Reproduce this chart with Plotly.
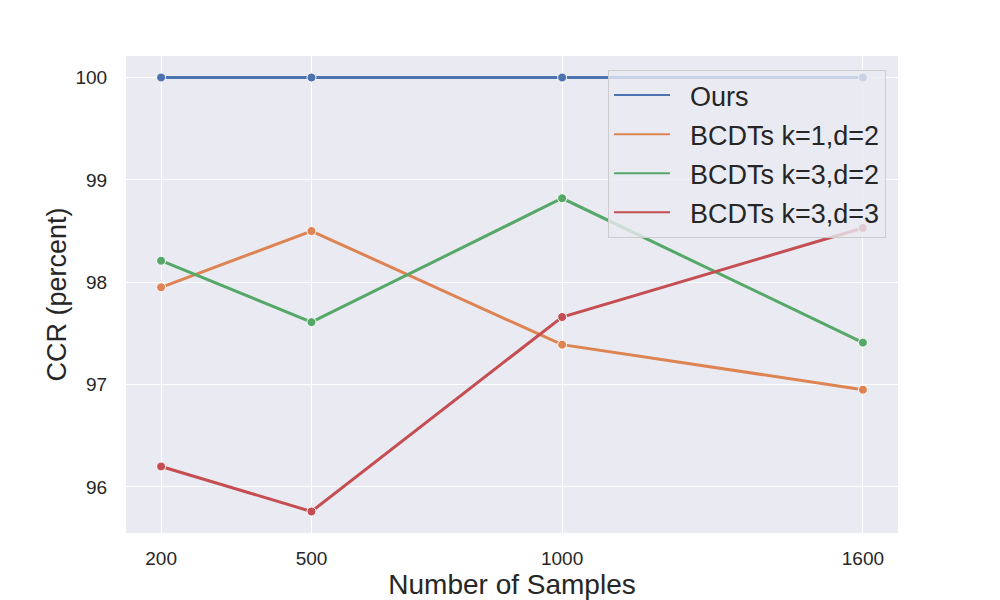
import plotly.graph_objects as go

# Sample counts on the x axis
samples = [200, 500, 1000, 1600]
tick_labels = ["200", "500", "1000", "1600"]

# CCR (percent) per method
ours = [100.0, 100.0, 100.0, 100.0]
bcdt_k1_d2 = [97.95, 98.50, 97.39, 96.95]
bcdt_k3_d2 = [98.21, 97.61, 98.82, 97.41]
bcdt_k3_d3 = [96.20, 95.76, 97.66, 98.53]

series = [
    ("Ours", ours, "#4c72b0"),
    ("BCDTs k=1,d=2", bcdt_k1_d2, "#dd8452"),
    ("BCDTs k=3,d=2", bcdt_k3_d2, "#55a868"),
    ("BCDTs k=3,d=3", bcdt_k3_d3, "#c44e52"),
]

font_family = "Liberation Sans, Arial, sans-serif"
text_color = "#262626"
pad = "\u00a0\u00a0"  # gap between legend line and label

fig = go.Figure()
for name, vals, color in series:
    # the data line with markers
    fig.add_trace(go.Scatter(
        x=samples, y=vals, name=name, mode="lines+markers",
        line=dict(color=color, width=3),
        marker=dict(size=9, color=color, line=dict(color="white", width=1)),
        showlegend=False, legendgroup=name,
    ))
    # legend entry shows only the line
    fig.add_trace(go.Scatter(
        x=[None], y=[None], name=pad + name, mode="lines",
        line=dict(color=color, width=2),
        legendgroup=name,
    ))

# page body adds an 8px offset, margins account for it
fig.update_layout(
    width=1000, height=600,
    paper_bgcolor="white",
    plot_bgcolor="#eaeaf2",
    margin=dict(l=118, r=110, t=48, b=75),
    font=dict(family=font_family, color=text_color),
    legend=dict(
        x=0.9845, y=0.9706, xanchor="right", yanchor="top",
        bgcolor="rgba(234,234,242,0.8)",
        bordercolor="#cccccc", borderwidth=1,
        font=dict(size=27, color=text_color),
        itemwidth=56, tracegroupgap=1,
    ),
)

fig.update_xaxes(
    range=[130, 1670], automargin=False,
    tickvals=samples, ticktext=tick_labels,
    tickfont=dict(size=19),
    showgrid=True, gridcolor="white", gridwidth=1,
    zeroline=False, showline=False,
    ticks="outside", ticklen=8, tickcolor="rgba(0,0,0,0)",
    title=dict(text="Number of Samples", font=dict(size=28), standoff=4),
)
fig.update_yaxes(
    range=[95.55, 100.21], automargin=False,
    tickvals=[96, 97, 98, 99, 100],
    tickfont=dict(size=19),
    showgrid=True, gridcolor="white", gridwidth=1,
    zeroline=False, showline=False,
    ticks="outside", ticklen=14, tickcolor="rgba(0,0,0,0)",
    title=dict(text="CCR (percent)", font=dict(size=27), standoff=1),
)

fig.write_html("out.html")
